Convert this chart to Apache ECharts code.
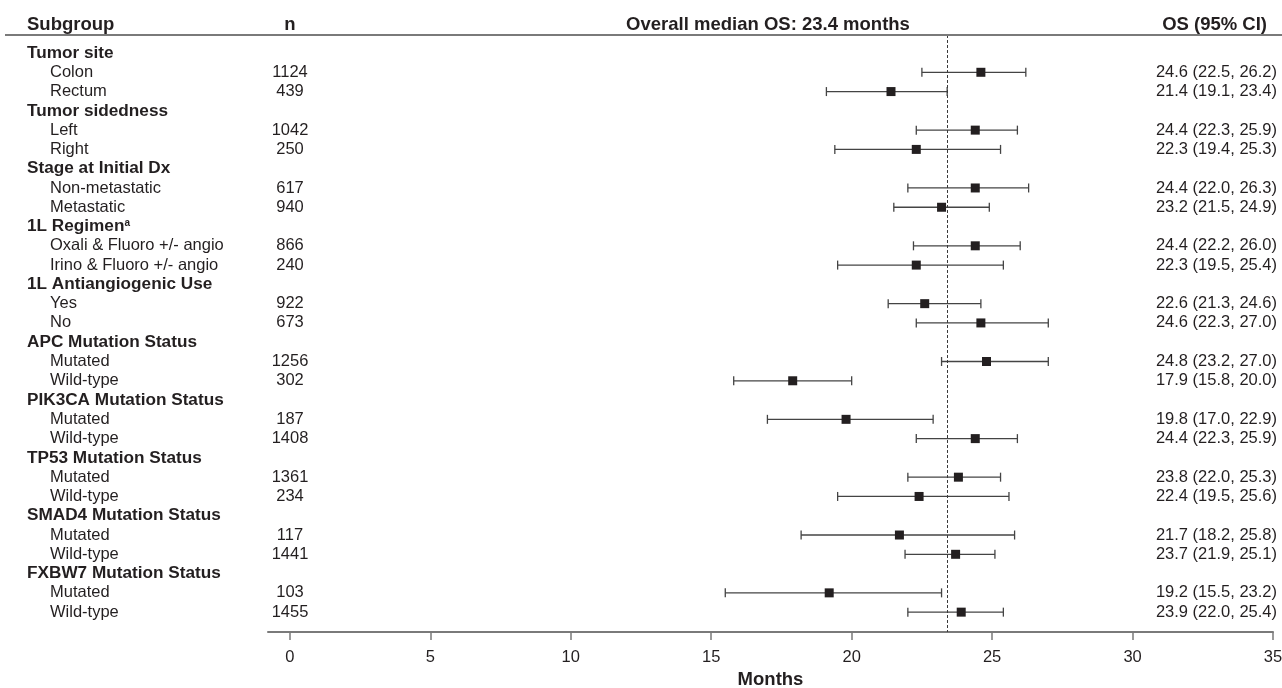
<!DOCTYPE html>
<html>
<head>
<meta charset="utf-8">
<script src="https://cdn.jsdelivr.net/npm/echarts@6/dist/echarts.min.js"></script>
<style>
html,body{margin:0;padding:0;background:#fff;}
#chart{width:1282px;height:688px;}
</style>
</head>
<body>
<div id="chart"></div>
<script>
// ---- data ----
var labels = ['Tumor site','Colon','Rectum',
  'Tumor sidedness','Left','Right',
  'Stage at Initial Dx','Non-metastatic','Metastatic',
  '1L Regimen','Oxali & Fluoro +/- angio','Irino & Fluoro +/- angio',
  '1L Antiangiogenic Use','Yes','No',
  'APC Mutation Status','Mutated','Wild-type',
  'PIK3CA Mutation Status','Mutated','Wild-type',
  'TP53 Mutation Status','Mutated','Wild-type',
  'SMAD4 Mutation Status','Mutated','Wild-type',
  'FXBW7 Mutation Status','Mutated','Wild-type'];
var isHeader = [1,0,0, 1,0,0, 1,0,0, 1,0,0, 1,0,0, 1,0,0, 1,0,0, 1,0,0, 1,0,0, 1,0,0];
var nValues = ['','1124','439', '','1042','250', '','617','940', '','866','240', '','922','673',
  '','1256','302', '','187','1408', '','1361','234', '','117','1441', '','103','1455'];
var est = [null,24.6,21.4, null,24.4,22.3, null,24.4,23.2, null,24.4,22.3, null,22.6,24.6,
  null,24.8,17.9, null,19.8,24.4, null,23.8,22.4, null,21.7,23.7, null,19.2,23.9];
var lo = [null,22.5,19.1, null,22.3,19.4, null,22.0,21.5, null,22.2,19.5, null,21.3,22.3,
  null,23.2,15.8, null,17.0,22.3, null,22.0,19.5, null,18.2,21.9, null,15.5,22.0];
var hi = [null,26.2,23.4, null,25.9,25.3, null,26.3,24.9, null,26.0,25.4, null,24.6,27.0,
  null,27.0,20.0, null,22.9,25.9, null,25.3,25.6, null,25.8,25.1, null,23.2,25.4];
var xTicks = [0,5,10,15,20,25,30,35];
var overallMedian = 23.4;

var osLabels = est.map(function(e,i){
  return e == null ? '' : e.toFixed(1) + ' (' + lo[i].toFixed(1) + ', ' + hi[i].toFixed(1) + ')';
});
var ciData = [], ptData = [];
for (var i = 0; i < labels.length; i++) {
  if (est[i] != null) { ciData.push([lo[i], hi[i], i]); ptData.push([est[i], i]); }
}

var TXT = '#231f20';
var FONT = 'Liberation Sans, Arial, Helvetica, sans-serif';
var XMIN = -0.78, XMAX = 35;
var HEAD_FONT = 'bold 18.5px ' + FONT;

var chart = echarts.init(document.getElementById('chart'));
chart.setOption({
  animation: false,
  backgroundColor: '#fff',
  textStyle: {fontFamily: FONT, color: TXT},
  grid: [
    {left: 268, right: 9, top: 35, bottom: 56, outerBoundsMode: 'none', containLabel: false},
    {left: 268, right: 9, top: 43.36, bottom: 66.24, outerBoundsMode: 'none', containLabel: false}
  ],
  xAxis: [
    {type: 'value', gridIndex: 0, min: XMIN, max: XMAX, position: 'bottom',
     axisLine: {show: true, onZero: false, lineStyle: {color: '#7a7a7a', width: 2}},
     axisTick: {show: true, customValues: xTicks, length: 8, lineStyle: {color: '#7a7a7a', width: 1.5}},
     axisLabel: {customValues: xTicks, fontSize: 16.5, color: TXT, margin: 17, fontFamily: FONT},
     splitLine: {show: false},
     name: 'Months', nameLocation: 'middle', nameGap: 38,
     nameTextStyle: {fontWeight: 'bold', fontSize: 18.5, color: TXT, fontFamily: FONT}},
    {type: 'value', gridIndex: 1, min: XMIN, max: XMAX, show: false}
  ],
  yAxis: [
    {type: 'value', gridIndex: 0, inverse: true, min: -0.934, max: 30.03, show: false},
    {type: 'category', gridIndex: 1, inverse: true, position: 'left', data: labels,
     axisLine: {show: false}, axisTick: {show: false}, splitLine: {show: false},
     axisLabel: {align: 'left', margin: 241, interval: 0, color: TXT, fontFamily: FONT,
       formatter: function(v, idx) {
         if (isHeader[idx]) {
           if (v === '1L Regimen') return '{h|' + v + '}{sup|a}';
           return '{h|' + v + '}';
         }
         return '{i|' + v + '}';
       },
       rich: {
         h: {fontWeight: 'bold', fontSize: 17.2, color: TXT, fontFamily: FONT},
         i: {fontSize: 16.5, color: TXT, padding: [0,0,0,23], fontFamily: FONT},
         sup: {fontWeight: 'bold', fontSize: 10, color: TXT, verticalAlign: 'top', fontFamily: FONT}
       }}},
    {type: 'category', gridIndex: 1, inverse: true, position: 'left', data: nValues,
     axisLine: {show: false}, axisTick: {show: false}, splitLine: {show: false},
     axisLabel: {align: 'center', margin: -22, interval: 0, fontSize: 16.5, color: TXT, fontFamily: FONT}},
    {type: 'category', gridIndex: 1, inverse: true, position: 'right', data: osLabels,
     axisLine: {show: false}, axisTick: {show: false}, splitLine: {show: false},
     axisLabel: {align: 'right', margin: 4, interval: 0, fontSize: 16.5, color: TXT, fontFamily: FONT}}
  ],
  graphic: [
    {type: 'line', shape: {x1: 5, y1: 35, x2: 1282, y2: 35}, style: {stroke: '#7a7a7a', lineWidth: 2}, z: 10},
    {type: 'text', x: 27, y: 25, style: {text: 'Subgroup', font: HEAD_FONT, fill: TXT, textAlign: 'left', textVerticalAlign: 'middle'}},
    {type: 'text', x: 290, y: 25, style: {text: 'n', font: HEAD_FONT, fill: TXT, textAlign: 'center', textVerticalAlign: 'middle'}},
    {type: 'text', x: 768, y: 25, style: {text: 'Overall median OS: 23.4 months', font: HEAD_FONT, fill: TXT, textAlign: 'center', textVerticalAlign: 'middle'}},
    {type: 'text', x: 1267, y: 25, style: {text: 'OS (95% CI)', font: HEAD_FONT, fill: TXT, textAlign: 'right', textVerticalAlign: 'middle'}}
  ],
  series: [
    {type: 'custom', xAxisIndex: 0, yAxisIndex: 0, data: ciData, z: 3,
     renderItem: function(params, api) {
       var a = api.coord([api.value(0), api.value(2)]);
       var b = api.coord([api.value(1), api.value(2)]);
       var st = {stroke: '#444444', lineWidth: 1.3};
       return {type: 'group', children: [
         {type: 'line', shape: {x1: a[0], y1: a[1], x2: b[0], y2: b[1]}, style: st},
         {type: 'line', shape: {x1: a[0], y1: a[1] - 4.5, x2: a[0], y2: a[1] + 4.5}, style: st},
         {type: 'line', shape: {x1: b[0], y1: b[1] - 4.5, x2: b[0], y2: b[1] + 4.5}, style: st}
       ]};
     }},
    {type: 'scatter', xAxisIndex: 0, yAxisIndex: 0, data: ptData, symbol: 'rect', symbolSize: 9, z: 5,
     itemStyle: {color: '#231f20', opacity: 1},
     markLine: {silent: true, symbol: 'none', label: {show: false},
       lineStyle: {type: [3, 2], color: '#3a3a3a', width: 1},
       data: [{xAxis: overallMedian}]}}
  ]
});
</script>
</body>
</html>
